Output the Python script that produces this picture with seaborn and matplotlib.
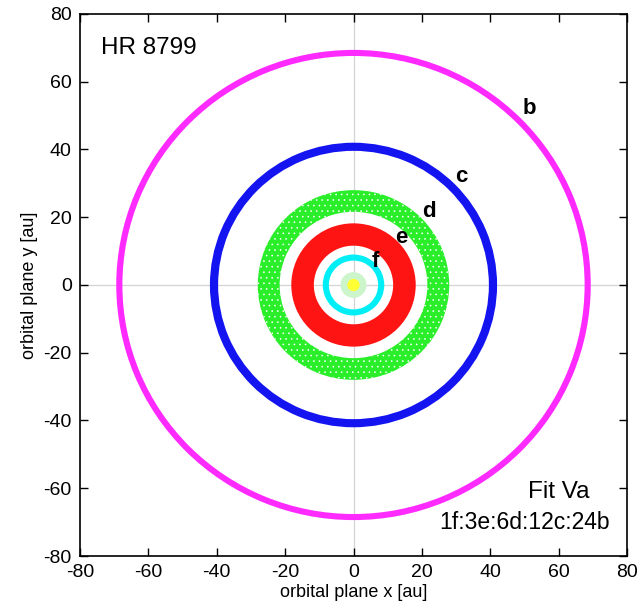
import numpy as np
import pandas as pd
import matplotlib
matplotlib.use("Agg")
import matplotlib.pyplot as plt
from matplotlib.patches import Wedge, Circle
import seaborn as sns

# ring extents (au)
planets = ["f", "e", "d", "c", "b"]
r_inner = [7.2, 11.6, 21.6, 39.6, 67.6]
r_outer = [9.0, 18.2, 28.0, 42.0, 69.4]
colors = ["#00eef5", "#ff1414", "#2aee2a", "#1414f0", "#ff2aff"]
hatches = [None, None, "...", None, None]
label_x = [6.5, 14.0, 22.0, 31.5, 51.5]
label_y = [7.0, 14.0, 21.8, 32.0, 52.0]

# central star and inner zone
star_r = 1.8
zone_r = 3.8

sns.set_style("ticks")
plt.rcParams["font.family"] = ["Liberation Sans", "DejaVu Sans"]
plt.rcParams["axes.unicode_minus"] = False
plt.rcParams["text.color"] = "black"
plt.rcParams["axes.labelcolor"] = "black"
plt.rcParams["xtick.color"] = "black"
plt.rcParams["ytick.color"] = "black"
plt.rcParams["hatch.linewidth"] = 0.4

df = pd.DataFrame({"planet": planets, "r_in": r_inner, "r_out": r_outer,
                   "color": colors, "hatch": hatches,
                   "lx": label_x, "ly": label_y})

fig = plt.figure(figsize=(6.37, 6.16), dpi=100)
ax = fig.add_axes([0.1256, 0.0974, 0.8587, 0.8799])

ax.axhline(0, color="#d4d4d4", lw=0.9, zorder=0)
ax.axvline(0, color="#d4d4d4", lw=0.9, zorder=0)

ax.add_patch(Circle((0, 0), zone_r, color="#ccf5cc", lw=0, zorder=1))
ax.add_patch(Circle((0, 0), star_r, color="#ffff33", lw=0, zorder=2))

for _, row in df.iterrows():
    ax.add_patch(Wedge((0, 0), row["r_out"], 0, 360,
                       width=row["r_out"] - row["r_in"],
                       facecolor=row["color"], edgecolor="#ffffff",
                       hatch=row["hatch"], lw=0, zorder=3))
    ax.text(row["lx"], row["ly"], row["planet"], fontsize=16,
            fontweight="bold", ha="center", va="center", zorder=5)

ax.set_xlim(-80, 80)
ax.set_ylim(-80, 80)
ax.set_xticks(np.arange(-80, 81, 20))
ax.set_yticks(np.arange(-80, 81, 20))
ax.tick_params(direction="in", top=True, right=True, length=6,
               width=1, labelsize=14, pad=6)
for s in ax.spines.values():
    s.set_linewidth(1.2)
    s.set_color("black")

ax.set_xlabel("orbital plane x [au]", fontsize=13, labelpad=2)
ax.set_ylabel("orbital plane y [au]", fontsize=13, labelpad=4)

ax.text(-74, 70, "HR 8799", fontsize=17.5, ha="left", va="center")
ax.text(69, -61, "Fit Va", fontsize=17.5, ha="right", va="center")
ax.text(75, -70, "1f:3e:6d:12c:24b", fontsize=16.5, ha="right", va="center")

fig.savefig("out.png", dpi=100)
